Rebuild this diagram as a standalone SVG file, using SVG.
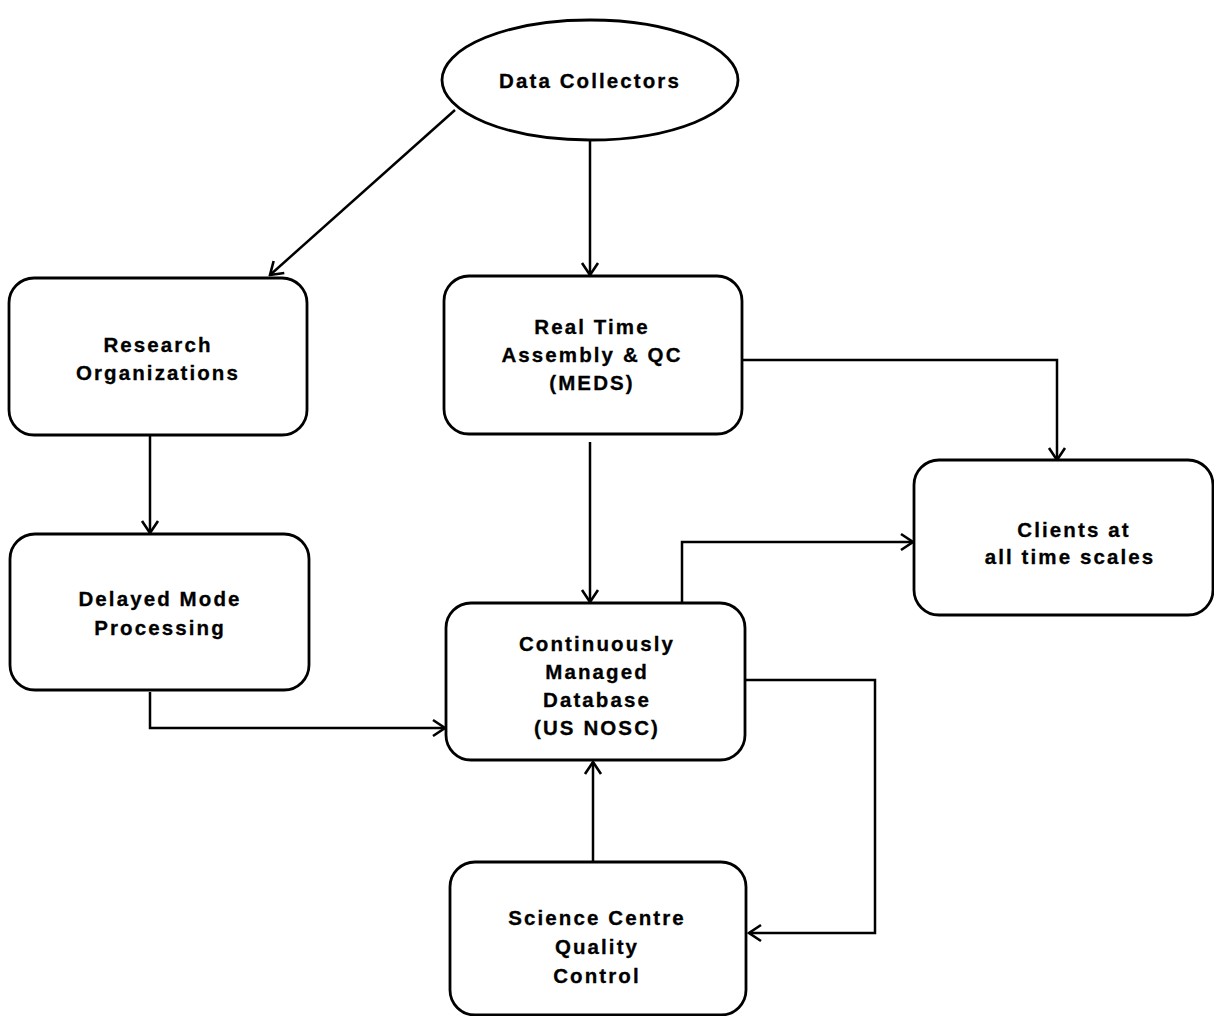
<svg xmlns="http://www.w3.org/2000/svg" width="1214" height="1016" viewBox="0 0 1214 1016">
<style>
.n{fill:#fff;stroke:#000;stroke-width:2.8}
.t{font-family:"Liberation Sans",Arial,sans-serif;font-weight:bold;font-size:20.5px;letter-spacing:2.1px;text-anchor:middle;fill:#000;stroke:#000;stroke-width:0.3}
.c{fill:none;stroke:#000;stroke-width:2.5;marker-end:url(#a)}
</style>
<defs>
<marker id="a" viewBox="0 0 20 20" refX="18" refY="10" markerWidth="20" markerHeight="20" markerUnits="userSpaceOnUse" orient="auto">
<path d="M6,2 L18,10 L6,18" fill="none" stroke="#000" stroke-width="2.6"/>
</marker>
</defs>
<rect width="1214" height="1016" fill="#fff"/>
<g id="connectors">
<path class="c" d="M455,110 L270,275"/>
<path class="c" d="M590,140 L590,275"/>
<path class="c" d="M150,435 L150,533"/>
<path class="c" d="M742,360 L1057,360 L1057,460"/>
<path class="c" d="M590,442 L590,602"/>
<path class="c" d="M150,692 L150,728 L445,728"/>
<path class="c" d="M682,603 L682,542 L913,542"/>
<path class="c" d="M746,680 L875,680 L875,933 L749,933"/>
<path class="c" d="M593,862 L593,762"/>
</g>
<g id="data-collectors">
<ellipse class="n" cx="590" cy="80" rx="148" ry="60"/>
<text class="t" x="590" y="88">Data Collectors</text>
</g>
<g id="research">
<rect class="n" x="9" y="278" width="298" height="157" rx="25"/>
<text class="t" x="158" y="352">Research</text>
<text class="t" x="158" y="380">Organizations</text>
</g>
<g id="realtime">
<rect class="n" x="444" y="276" width="298" height="158" rx="25"/>
<text class="t" x="592" y="334">Real Time</text>
<text class="t" x="592" y="362">Assembly &amp; QC</text>
<text class="t" x="592" y="390">(MEDS)</text>
</g>
<g id="delayed">
<rect class="n" x="10" y="534" width="299" height="156" rx="25"/>
<text class="t" x="160" y="606">Delayed Mode</text>
<text class="t" x="160" y="635">Processing</text>
</g>
<g id="database">
<rect class="n" x="446" y="603" width="299" height="157" rx="25"/>
<text class="t" x="597" y="651">Continuously</text>
<text class="t" x="597" y="679">Managed</text>
<text class="t" x="597" y="707">Database</text>
<text class="t" x="597" y="735">(US NOSC)</text>
</g>
<g id="clients">
<rect class="n" x="914" y="460" width="299" height="155" rx="25"/>
<text class="t" x="1074" y="537">Clients at</text>
<text class="t" x="1070" y="564">all time scales</text>
</g>
<g id="science">
<rect class="n" x="450" y="862" width="296" height="153" rx="25"/>
<text class="t" x="597" y="925">Science Centre</text>
<text class="t" x="597" y="954">Quality</text>
<text class="t" x="597" y="983">Control</text>
</g>
</svg>
